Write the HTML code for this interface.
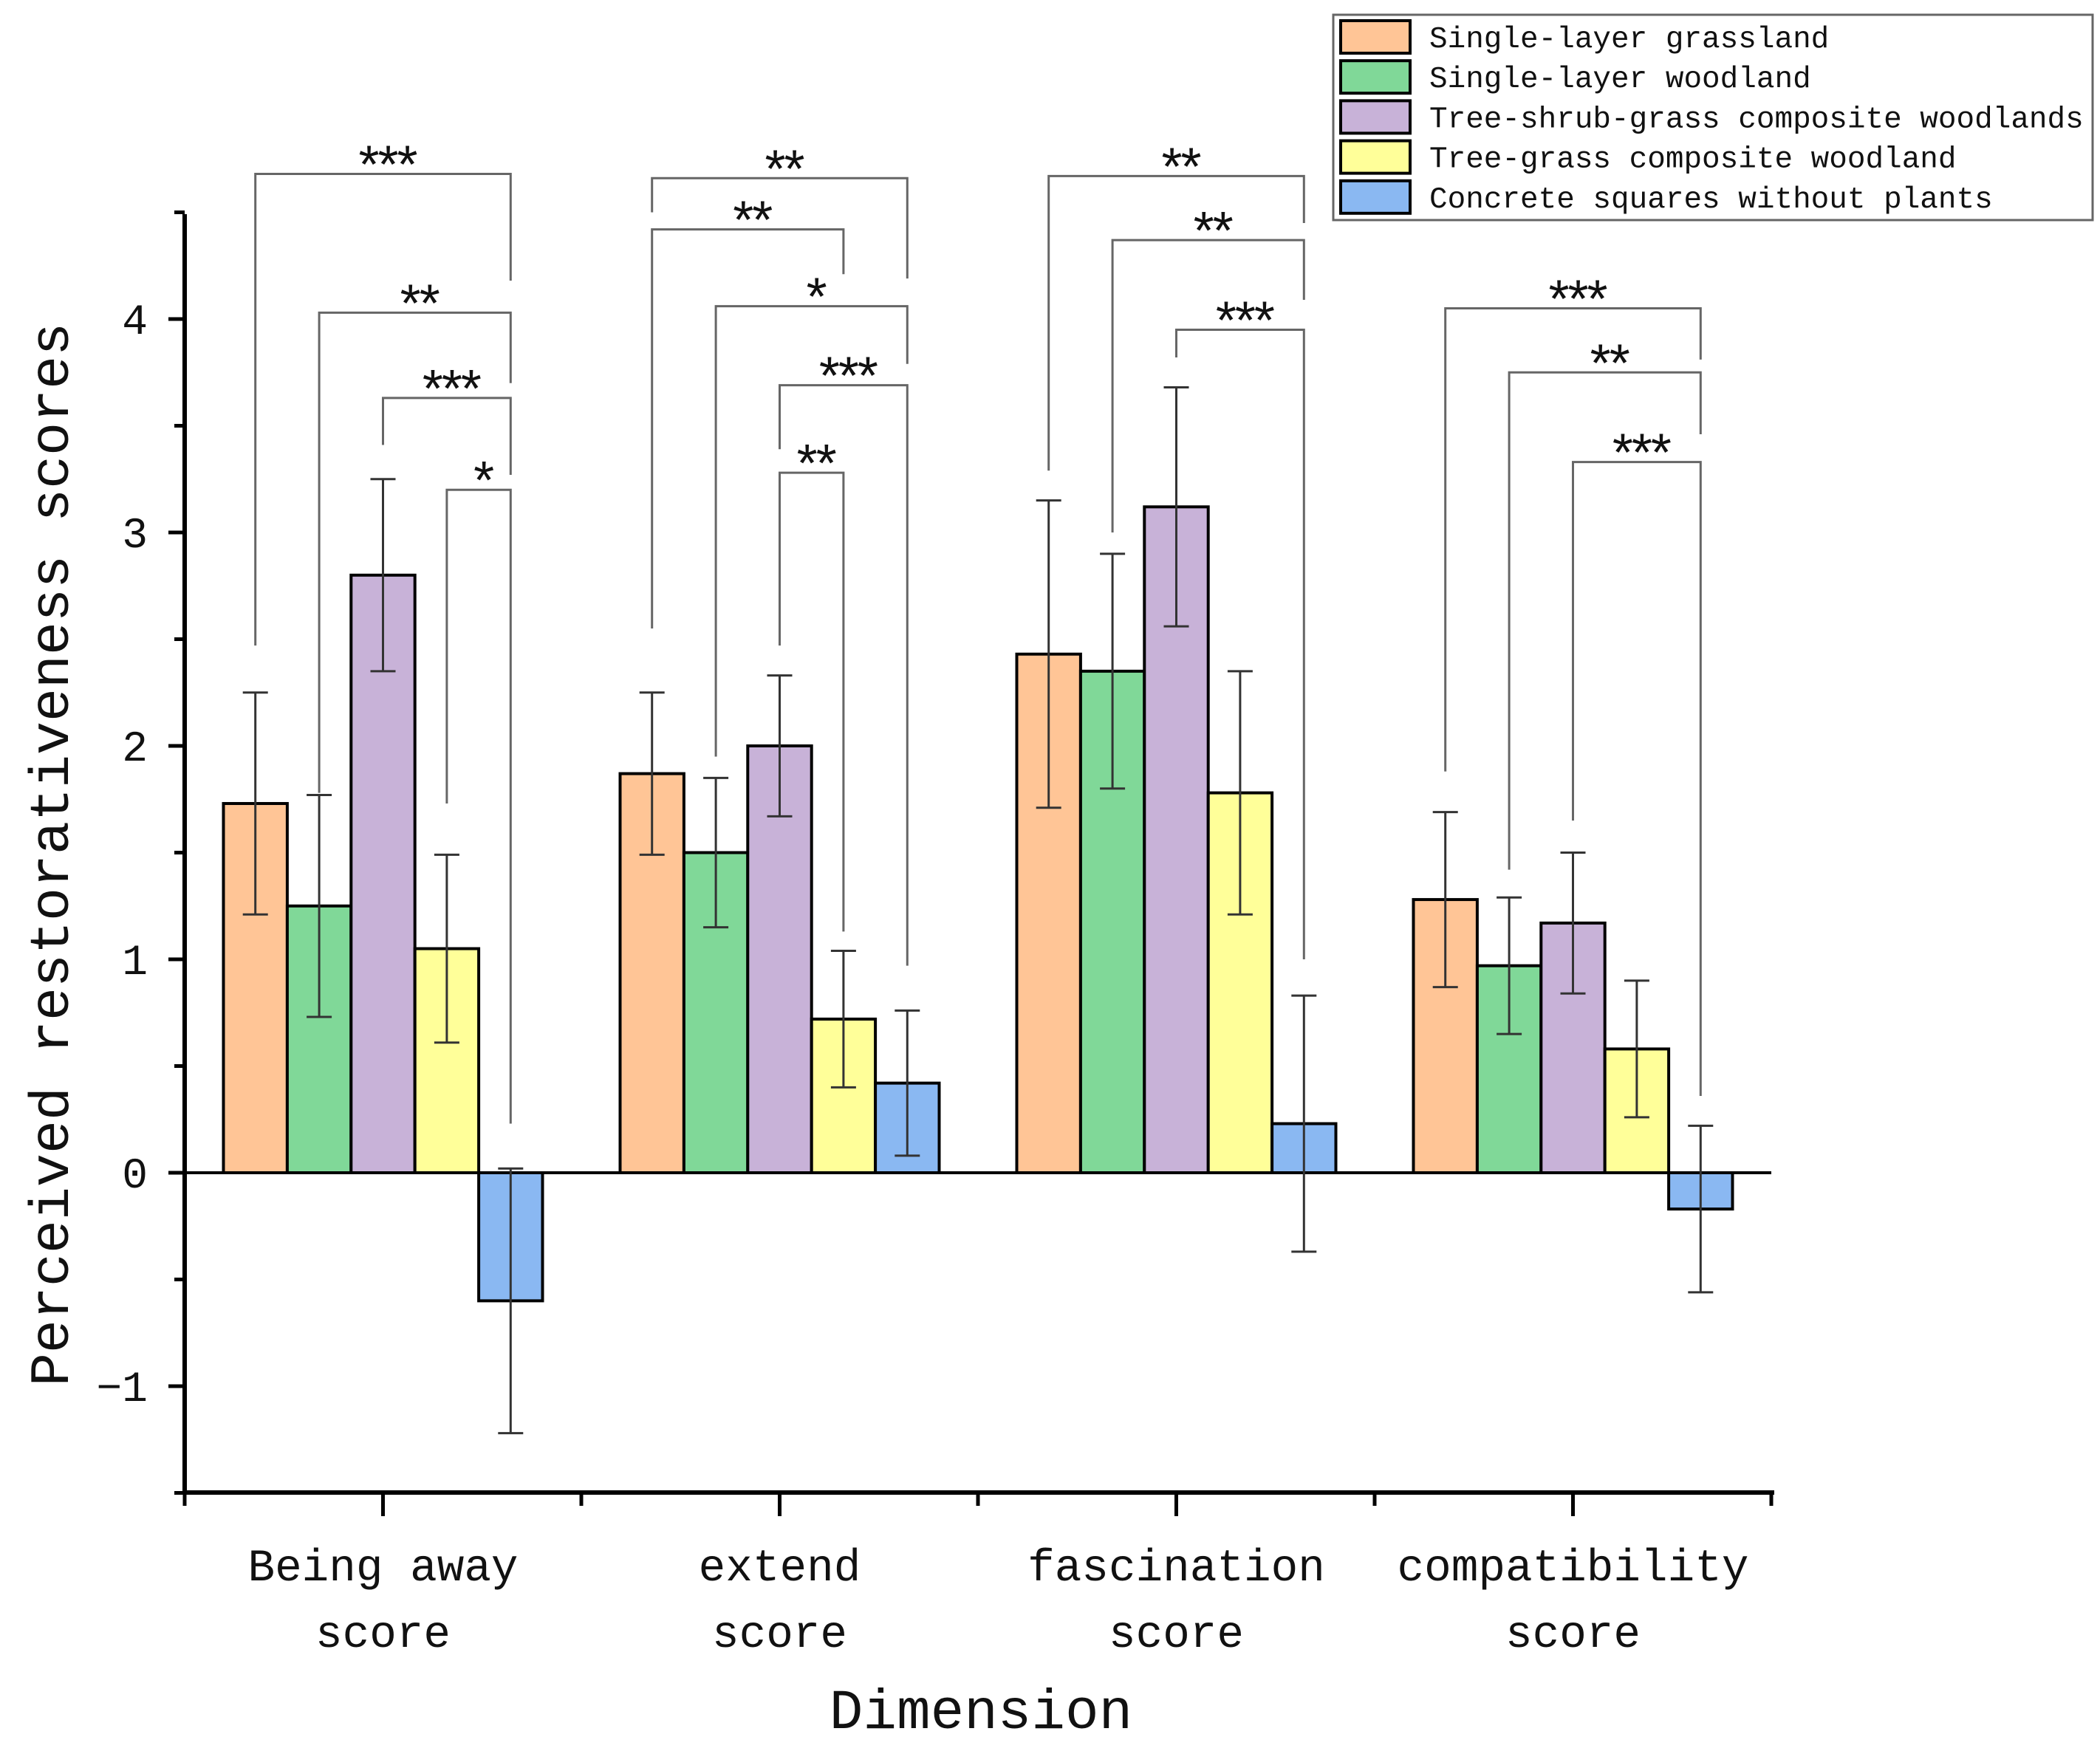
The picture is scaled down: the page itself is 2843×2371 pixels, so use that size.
<!DOCTYPE html>
<html><head><meta charset="utf-8"><style>
html,body{margin:0;padding:0;background:#fff;}
svg{display:block;}
text{font-family:"Liberation Mono","DejaVu Sans Mono",monospace;fill:#111;}
text.sig{font-family:"Liberation Sans","DejaVu Sans",sans-serif;letter-spacing:-2px;}
</style></head><body>
<svg id="chart" width="2843" height="2371" viewBox="0 0 2843 2371" xmlns="http://www.w3.org/2000/svg">
<g id="plot"></g>
</svg>
<script>
const categories = ["Being away|score","extend|score","fascination|score","compatibility|score"];
const seriesNames = ["Single-layer grassland","Single-layer woodland","Tree-shrub-grass composite woodlands","Tree-grass composite woodland","Concrete squares without plants"];
const grassland = [1.73,1.87,2.43,1.28];
const woodland = [1.25,1.50,2.35,0.97];
const treeShrubGrass = [2.80,2.00,3.12,1.17];
const treeGrass = [1.05,0.72,1.78,0.58];
const concrete = [-0.60,0.42,0.23,-0.17];
const errGrassland = [0.52,0.38,0.72,0.41];
const errWoodland = [0.52,0.35,0.55,0.32];
const errTreeShrubGrass = [0.45,0.33,0.56,0.33];
const errTreeGrass = [0.44,0.32,0.57,0.32];
const errConcrete = [0.62,0.34,0.60,0.39];
const yTicks = [-1,0,1,2,3,4];
const yTickLabels = ["\u22121","0","1","2","3","4"];
// brackets: [group, fromBar, toBar, topValue, leftBottomValue, rightBottomValue, label]
const brackets = [
 [0,0,4,4.68,2.47,4.18,"***"],
 [0,1,4,4.03,1.78,3.70,"**"],
 [0,2,4,3.63,3.41,3.27,"***"],
 [0,3,4,3.20,1.73,0.23,"*"],
 [1,0,4,4.66,4.50,4.19,"**"],
 [1,0,3,4.42,2.55,4.21,"**"],
 [1,1,4,4.06,1.95,3.79,"*"],
 [1,2,4,3.69,3.39,0.97,"***"],
 [1,2,3,3.28,2.47,1.13,"**"],
 [2,0,4,4.67,3.29,4.45,"**"],
 [2,1,4,4.37,3.00,4.09,"**"],
 [2,2,4,3.95,3.82,1.00,"***"],
 [3,0,4,4.05,1.88,3.81,"***"],
 [3,1,4,3.75,1.42,3.46,"**"],
 [3,2,4,3.33,1.65,0.36,"***"]
];

const values=[grassland,woodland,treeShrubGrass,treeGrass,concrete];
const errs=[errGrassland,errWoodland,errTreeShrubGrass,errTreeGrass,errConcrete];
const colors=["#ffc596","#80d898","#c8b2d8","#ffff99","#8ab8f2"];
const NS="http://www.w3.org/2000/svg";
const g=document.getElementById('plot');
const X0=250,X1=2398,Y0=1588,UNIT=289,YBOT=2021,YTOP=290;
const GW=(X1-X0)/categories.length, BW=86.4;
const y=v=>Y0-v*UNIT;
const gc=i=>X0+GW*(i+0.5);
const bx=(i,j)=>gc(i)+(j-2)*BW;
function mk(t,a,p){const e=document.createElementNS(NS,t);for(const k in a)e.setAttribute(k,a[k]);(p||g).appendChild(e);return e;}

let e;
e=mk('line',{x1:X0,y1:YTOP,x2:X0,y2:YBOT+3,stroke:'#000','stroke-width':6});


e=mk('line',{x1:X0-3,y1:YBOT,x2:X1+4,y2:YBOT,stroke:'#000','stroke-width':6});


for(let v=-1.5;v<=4.5;v+=0.5){
  const major=Number.isInteger(v);
  e=mk('line',{x1:X0-(major?22:14),y1:y(v),x2:X0,y2:y(v),stroke:'#000','stroke-width':5});
  
  
}
yTicks.forEach((v,i)=>{
  e=mk('text',{x:200,y:y(v)+20,'text-anchor':'end','font-size':58});
  e.textContent=yTickLabels[i];
  
  
});
for(let i=0;i<=categories.length;i++){
  e=mk('line',{x1:X0+GW*i,y1:YBOT,x2:X0+GW*i,y2:YBOT+18,stroke:'#000','stroke-width':5});
  
  
}
categories.forEach((c,i)=>{
  e=mk('line',{x1:gc(i),y1:YBOT,x2:gc(i),y2:YBOT+32,stroke:'#000','stroke-width':5});
  
  
  const parts=c.split('|');
  parts.forEach((p,k)=>{
    const t=mk('text',{x:gc(i),y:2140+k*90,'text-anchor':'middle','font-size':61});
    t.textContent=p;
    
    
  });
});
values.forEach((arr,j)=>{
  arr.forEach((v,i)=>{
    const cx=bx(i,j);
    e=mk('rect',{x:cx-BW/2,y:Math.min(y(v),Y0),width:BW,height:Math.abs(y(v)-Y0),fill:colors[j],stroke:'#000','stroke-width':4});
    
    
  });
});
e=mk('line',{x1:X0,y1:Y0,x2:X1,y2:Y0,stroke:'#000','stroke-width':4});


values.forEach((arr,j)=>{
  arr.forEach((v,i)=>{
    const cx=bx(i,j),hi=y(v+errs[j][i]),lo=y(v-errs[j][i]);
    const eg=mk('g',{stroke:'#333','stroke-width':3});
    
    
    mk('line',{x1:cx,y1:hi,x2:cx,y2:lo},eg);
    mk('line',{x1:cx-17,y1:hi,x2:cx+17,y2:hi},eg);
    mk('line',{x1:cx-17,y1:lo,x2:cx+17,y2:lo},eg);
  });
});
brackets.forEach(b=>{
  const [gi,a,c,top,lb,rb,lab]=b;
  const xa=bx(gi,a),xc=bx(gi,c);
  const bg=mk('g',{});
  
  
  mk('polyline',{points:`${xa},${y(lb)} ${xa},${y(top)} ${xc},${y(top)} ${xc},${y(rb)}`,fill:'none',stroke:'#666','stroke-width':3},bg);
  const t=mk('text',{x:(xa+xc)/2+6,y:y(top)+12,'text-anchor':'middle','font-size':72,'class':'sig'},bg);
  t.textContent=lab;
  
  
});
e=mk('text',{x:0,y:0,'text-anchor':'middle','font-size':75,transform:'translate(92,1157) rotate(-90)'});
e.textContent='Perceived restorativeness scores';


e=mk('text',{x:1328,y:2340,'text-anchor':'middle','font-size':76});
e.textContent='Dimension';


const lg=mk('g',{});


mk('rect',{x:1805,y:20,width:1028,height:278,fill:'#fff',stroke:'#666','stroke-width':3},lg);
seriesNames.forEach((n,j)=>{
  const ly=50+j*54.2;
  const le=mk('g',{},lg);
  
  
  mk('rect',{x:1815,y:ly-22,width:94,height:44,fill:colors[j],stroke:'#000','stroke-width':4},le);
  const t=mk('text',{x:1935,y:ly+14,'font-size':41},le);
  t.textContent=n;
});
</script>
</body></html>
